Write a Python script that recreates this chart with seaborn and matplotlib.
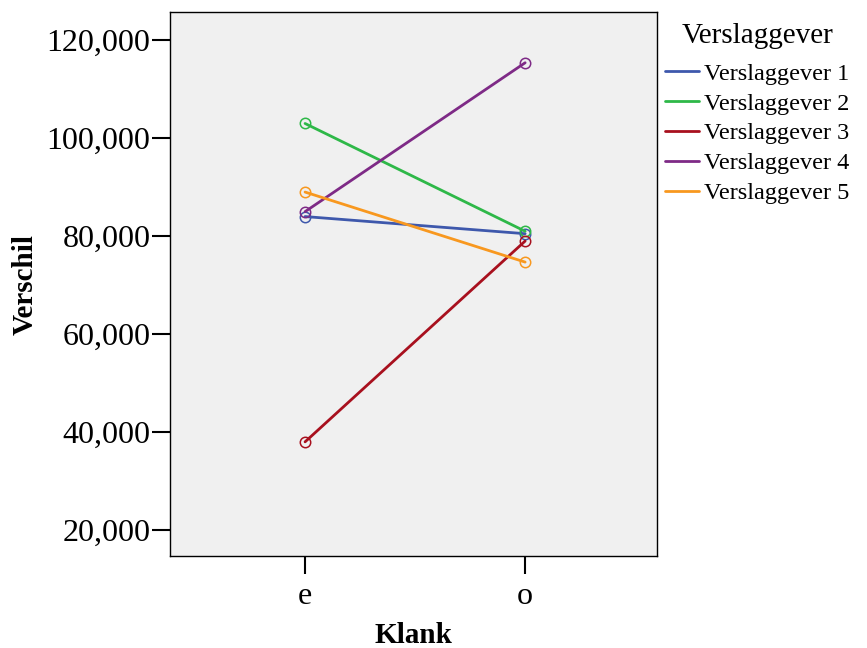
import matplotlib
matplotlib.use("Agg")
import matplotlib.pyplot as plt
from matplotlib.lines import Line2D
from matplotlib.ticker import FuncFormatter, FixedLocator
import seaborn as sns
import pandas as pd

# Klank categories and mean Verschil per Verslaggever
klank = ["e", "o"]
reporters = ["Verslaggever 1", "Verslaggever 2", "Verslaggever 3",
             "Verslaggever 4", "Verslaggever 5"]
v1 = [84000, 80500]
v2 = [103000, 81000]
v3 = [38000, 79000]
v4 = [85000, 115400]
v5 = [89000, 74700]
y_ticks = [20000, 40000, 60000, 80000, 100000, 120000]

colors = ["#3e58ac", "#2eb848", "#a8101e", "#7e2a86", "#f8981f"]

rows = []
for name, vals in zip(reporters, [v1, v2, v3, v4, v5]):
    for k, v in zip(klank, vals):
        rows.append({"Klank": k, "Verschil": v, "Verslaggever": name})
df = pd.DataFrame(rows)

sns.set_style("white")
plt.rcParams["font.family"] = ["Liberation Serif", "DejaVu Serif"]
plt.rcParams["text.color"] = "black"
plt.rcParams["axes.labelcolor"] = "black"
plt.rcParams["xtick.color"] = "black"
plt.rcParams["ytick.color"] = "black"

fig = plt.figure(figsize=(8.67, 6.48), dpi=100)
ax = fig.add_axes([0.196, 0.142, 0.562, 0.839])
ax.set_facecolor("#f0f0f0")

sns.lineplot(data=df, x="Klank", y="Verschil", hue="Verslaggever",
             palette=colors, marker="o", markersize=7.5, linewidth=2,
             sort=False, legend=False, ax=ax)
for ln in ax.lines:
    ln.set_markerfacecolor("none")
    ln.set_markeredgecolor(ln.get_color())
    ln.set_markeredgewidth(1.1)

ax.set_xlim(-0.614, 1.6)
ax.set_ylim(14700, 125700)
ax.yaxis.set_major_locator(FixedLocator(y_ticks))
ax.yaxis.set_major_formatter(FuncFormatter(lambda v, p: f"{v:,.0f}"))

for s in ax.spines.values():
    s.set_visible(True)
    s.set_color("black")
    s.set_linewidth(1.0)

ax.tick_params(axis="y", direction="out", length=13, width=1.5, color="black",
               labelcolor="black", labelsize=23, pad=1, left=True)
ax.tick_params(axis="x", direction="out", length=13, width=1.5, color="black",
               labelcolor="black", labelsize=23, pad=6, bottom=True)

ax.set_xlabel("Klank", fontsize=21, fontweight="bold", labelpad=8,
              color="black")
ax.set_ylabel("Verschil", fontsize=21, fontweight="bold", labelpad=6,
              color="black")

handles = [Line2D([0], [0], color=c, lw=2) for c in colors]
leg = fig.legend(handles, reporters, title="Verslaggever", loc="upper left",
                 bbox_to_anchor=(665 / 867, 1 - 23 / 648),
                 bbox_transform=fig.transFigure, frameon=False, fontsize=17.5,
                 title_fontsize=21, handlelength=1.4, handletextpad=0.22,
                 labelspacing=0.32, borderaxespad=0.0, borderpad=0.0)
leg._legend_box.sep = 10
for t in leg.get_texts():
    t.set_color("black")
leg.get_title().set_color("black")

fig.savefig("out.png", dpi=100)
